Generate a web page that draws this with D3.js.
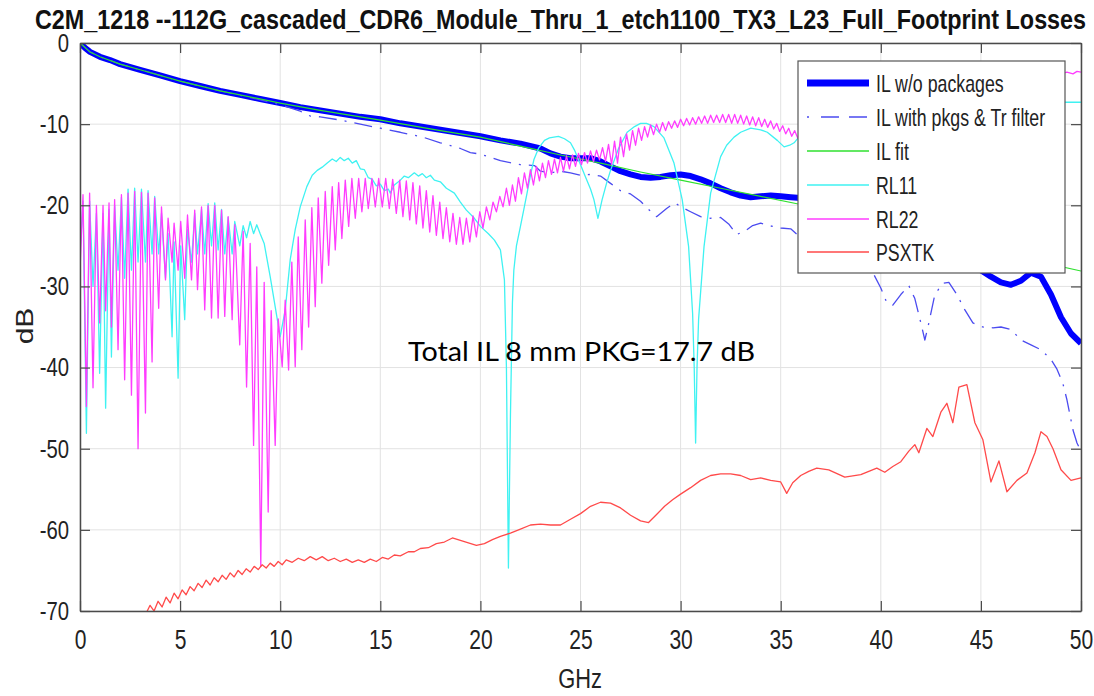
<!DOCTYPE html>
<html><head><meta charset="utf-8">
<script src="https://cdn.jsdelivr.net/npm/d3@7"></script>
<style>body{margin:0;background:#fff}</style>
</head><body>
<svg id="chart" width="1094" height="696"></svg>
<script>
const titleText = "C2M_1218 --112G_cascaded_CDR6_Module_Thru_1_etch1100_TX3_L23_Full_Footprint Losses";
const xLabel = "GHz";
const yLabel = "dB";
const annotation = "Total IL 8 mm PKG=17.7 dB";
const xTicks = [0,5,10,15,20,25,30,35,40,45,50];
const yTicks = [0,-10,-20,-30,-40,-50,-60,-70];
const seriesNames = ["IL w/o packages","IL with pkgs & Tr filter","IL fit","RL11","RL22","PSXTK"];

// [GHz, dB]
const ilNoPkg = [[0,0],[0.25,-0.6],[0.5,-1.1],[1,-1.7],[1.5,-2.1],[2,-2.6],[3,-3.3],[4,-4.0],[5,-4.7],[6,-5.3],[7,-5.9],[8,-6.4],[9,-6.9],[10,-7.4],[11,-7.9],[12,-8.3],[13,-8.7],[14,-9.1],[15,-9.4],[16,-9.9],[17,-10.3],[18,-10.7],[19,-11.1],[20,-11.5],[21,-12.0],[22,-12.4],[23,-13.0],[23.5,-13.6],[24,-14.0],[24.5,-14.2],[25,-14.2],[25.5,-14.2],[26,-14.6],[26.5,-15.2],[27,-15.8],[27.5,-16.2],[28,-16.5],[28.5,-16.6],[29,-16.5],[29.5,-16.3],[30,-16.2],[30.5,-16.4],[31,-16.8],[31.5,-17.3],[32,-17.9],[32.5,-18.4],[33,-18.8],[33.5,-19.0],[34,-18.9],[34.5,-18.8],[35,-18.9],[35.5,-19.0],[36,-19.1],[37,-19.6],[38,-20.2],[39,-21],[40,-22],[41,-23],[42,-24.2],[43,-25.5],[44,-26.8],[45,-28],[45.5,-28.8],[46,-29.5],[46.5,-29.8],[47,-29.3],[47.5,-28.3],[48,-28.8],[48.5,-31],[49,-33.8],[49.5,-35.8],[50,-37]];

const ilPkg = [[0,0],[0.5,-1.1],[1,-1.7],[2,-2.6],[3,-3.3],[5,-4.7],[7,-5.9],[9,-7.0],[10,-7.6],[11,-8.4],[11.5,-9.0],[12,-9.1],[13,-9.5],[14,-10.0],[15,-10.5],[16,-11.0],[16.5,-11.3],[17,-11.5],[18,-12.3],[19,-13.0],[19.5,-13.5],[20,-13.7],[21,-14.5],[22,-15.0],[22.7,-15.1],[23,-15.8],[23.5,-16.0],[24,-15.8],[24.5,-16.0],[25,-16.3],[25.5,-16.2],[26,-16.4],[26.5,-17.3],[27,-18.2],[27.5,-18.6],[28,-19.5],[28.4,-20.5],[28.8,-21.4],[29.3,-20.4],[29.7,-19.7],[30.1,-20.3],[30.5,-20.8],[31,-21.4],[31.5,-21.6],[32,-21.5],[32.4,-22.3],[32.8,-23.6],[33.2,-23.2],[33.6,-22.5],[34,-22.2],[34.4,-22.5],[35,-22.8],[35.5,-22.9],[36,-24],[37,-25],[38,-26],[39,-27],[39.5,-27.8],[40,-30.2],[40.3,-32],[40.6,-32.3],[41,-31],[41.4,-29.9],[41.7,-31.5],[42,-34.5],[42.2,-36.6],[42.4,-34.5],[42.7,-31],[43.1,-29.6],[43.4,-29.5],[43.8,-31],[44.2,-32.9],[44.6,-34.5],[45.1,-35],[45.6,-35.1],[46,-35],[46.5,-35.3],[47,-36.6],[47.5,-37.2],[48,-37.8],[48.5,-39],[48.8,-40.2],[49.1,-42],[49.3,-44],[49.6,-47.7],[49.8,-49.3],[50,-50.3]];

const ilFit = [[0,0],[0.5,-1.1],[1,-1.7],[2,-2.6],[3,-3.3],[5,-4.7],[7,-5.9],[10,-7.4],[12,-8.3],[15,-9.5],[18,-10.8],[20,-11.6],[22,-12.7],[24,-13.8],[26,-14.8],[28,-15.9],[30,-16.9],[32,-17.9],[34,-18.9],[36,-19.9],[38,-21.0],[40,-22.2],[42,-23.4],[44,-24.6],[46,-25.8],[48,-27.0],[50,-28.1]];

const rl11 = [[0,-26],[0.15,-19.5],[0.32,-48.1],[0.48,-19.5],[0.65,-30],[0.82,-21],[0.98,-40.7],[1.15,-21],[1.28,-45],[1.45,-20.5],[1.57,-38.7],[1.73,-20],[1.9,-28],[2.07,-19],[2.23,-29],[2.4,-18],[2.57,-28],[2.73,-17.9],[2.9,-27],[3.07,-18],[3.27,-27],[3.4,-18.2],[3.6,-26],[3.73,-18.9],[3.93,-26],[4.07,-21],[4.27,-29],[4.4,-23.5],[4.6,-36.2],[4.7,-24.5],[4.9,-41.3],[5.03,-25],[5.23,-34.1],[5.37,-23],[5.57,-27],[5.73,-21],[5.87,-26],[6.07,-20.5],[6.23,-26],[6.4,-19.8],[6.57,-25],[6.73,-19.7],[6.9,-25.5],[7.07,-20.5],[7.23,-26],[7.4,-21.5],[7.6,-26],[7.73,-22],[7.98,-25],[8.15,-22.5],[8.32,-24],[8.5,-22],[8.67,-23.5],[8.83,-22.4],[9.0,-23.5],[9.2,-24.7],[9.5,-28.8],[9.83,-33.7],[10,-36.2],[10.25,-32.9],[10.5,-26.7],[10.75,-23],[11,-20.2],[11.33,-17.7],[11.6,-16.3],[11.85,-15.7],[12.1,-15.3],[12.35,-14.8],[12.6,-14.3],[12.8,-14.6],[13,-14.1],[13.2,-14.5],[13.4,-14.2],[13.6,-14.8],[13.8,-14.5],[14.0,-15.5],[14.2,-15.6],[14.4,-16.6],[14.6,-16.8],[14.8,-17.6],[15.0,-17.4],[15.2,-18.2],[15.4,-18],[15.5,-18.5],[15.7,-17.5],[16.0,-16.9],[16.2,-16.4],[16.4,-16.6],[16.7,-16.0],[16.9,-16.4],[17.1,-16.1],[17.3,-16.6],[17.5,-16.3],[17.7,-16.9],[18.0,-17.1],[18.3,-17.9],[18.7,-18.5],[19.0,-19.6],[19.3,-20.6],[19.7,-21.6],[20.0,-22.6],[20.4,-23.5],[20.7,-24.3],[21.0,-25.5],[21.2,-29.2],[21.3,-40],[21.4,-64.7],[21.5,-46],[21.6,-32],[21.67,-28],[21.8,-25],[22.0,-22.6],[22.17,-20.5],[22.33,-18.5],[22.5,-16.3],[22.67,-14.4],[22.9,-13],[23.2,-12],[23.45,-11.7],[23.67,-11.6],[23.9,-11.5],[24.2,-11.8],[24.5,-12.3],[24.7,-13.2],[24.9,-14.4],[25.25,-16.5],[25.5,-18],[25.67,-19.3],[25.87,-21.6],[26.08,-19.3],[26.3,-17.3],[26.5,-15.7],[26.9,-13],[27.33,-11],[27.7,-10.3],[28,-9.9],[28.3,-9.9],[28.67,-10.3],[29.17,-11.7],[29.67,-14.8],[30.08,-19.3],[30.4,-25.1],[30.6,-33.3],[30.68,-40],[30.75,-49.3],[30.82,-40],[30.9,-34],[31.17,-25.1],[31.5,-18.5],[32,-14],[32.3,-12.6],[32.67,-11.6],[33,-11],[33.5,-10.5],[34,-10.7],[34.33,-11],[34.83,-12],[35.17,-12.8],[35.45,-12.6],[35.67,-12.3],[35.9,-11.6],[37,-10.5],[39,-9],[41,-8.5],[43,-8],[45,-7.5],[47,-7.4],[49,-7.3],[50,-7.3]];

const rl22 = [[0,-28],[0.15,-18.7],[0.32,-44.8],[0.48,-18.5],[0.65,-42.5],[0.82,-20],[0.98,-34.5],[1.15,-20],[1.28,-33],[1.45,-19.7],[1.57,-35],[1.73,-19.3],[1.9,-37.8],[2.07,-18.7],[2.23,-41.5],[2.4,-18.5],[2.57,-43.4],[2.73,-18.3],[2.9,-50],[3.07,-18.4],[3.27,-45.6],[3.4,-18.5],[3.6,-39.3],[3.73,-19.1],[3.93,-32.7],[4.07,-20.2],[4.27,-29.2],[4.4,-21.6],[4.6,-27],[4.7,-22.2],[4.9,-28],[5.03,-22],[5.23,-29],[5.37,-21.2],[5.57,-29.2],[5.73,-20.6],[5.87,-30.4],[6.07,-20.2],[6.23,-32.9],[6.4,-20],[6.57,-33.9],[6.73,-20],[6.9,-33.9],[7.07,-20.6],[7.23,-33.7],[7.4,-21.4],[7.6,-34.1],[7.73,-22.4],[7.98,-37.2],[8.15,-23.2],[8.32,-42.4],[8.5,-24.7],[8.67,-49.6],[8.83,-27.6],[9.03,-64.5],[9.2,-29.5],[9.4,-57.8],[9.55,-33],[9.75,-49.6],[9.9,-34],[10.1,-39.9],[10.25,-31.7],[10.42,-40.3],[10.58,-27],[10.75,-39.9],[10.9,-23.9],[11.08,-37.8],[11.25,-21.8],[11.42,-35],[11.58,-20.3],[11.75,-32.5],[11.9,-19.1],[12.08,-29.6],[12.25,-18.3],[12.42,-27.4],[12.6,-17.7],[12.75,-25.5],[12.92,-17.2],[13.08,-24.1],[13.25,-16.9],[13.42,-22.6],[13.58,-16.7],[13.75,-21.6],[13.92,-16.7],[14.08,-20.8],[14.25,-16.7],[14.4,-20.4],[14.58,-16.7],[14.75,-20.2],[14.92,-16.7],[15.1,-20.2],[15.27,-16.7],[15.45,-20.4],[15.62,-16.8],[15.8,-21],[15.97,-16.9],[16.13,-21.4],[16.3,-17],[16.47,-21.8],[16.63,-17.2],[16.8,-22.3],[16.97,-17.6],[17.13,-22.8],[17.3,-18.2],[17.47,-23.3],[17.63,-18.8],[17.8,-23.7],[17.97,-19.6],[18.13,-24.1],[18.3,-20.3],[18.47,-24.5],[18.63,-21],[18.8,-24.8],[18.97,-21.5],[19.13,-24.8],[19.3,-21.6],[19.47,-24.5],[19.63,-21.3],[19.8,-23.9],[19.97,-20.8],[20.13,-22.8],[20.3,-20.2],[20.47,-21.8],[20.63,-19.6],[20.8,-20.8],[20.97,-18.9],[21.13,-20.2],[21.3,-17.9],[21.45,-20.0],[21.6,-17.5],[21.75,-19.5],[21.9,-16.6],[22.05,-18.6],[22.2,-16.0],[22.35,-17.9],[22.5,-15.6],[22.65,-17.5],[22.8,-15.2],[22.95,-17.0],[23.1,-14.8],[23.25,-16.6],[23.4,-14.5],[23.55,-16.2],[23.7,-14.3],[23.85,-16.0],[24.0,-14.1],[24.15,-15.8],[24.3,-13.9],[24.45,-15.5],[24.6,-13.8],[24.75,-15.2],[24.9,-13.6],[25.05,-15.0],[25.2,-13.5],[25.35,-14.8],[25.5,-13.3],[25.65,-14.6],[25.8,-13.2],[25.95,-14.4],[26.1,-12.9],[26.25,-14.6],[26.4,-12.5],[26.55,-15.0],[26.7,-12.1],[26.85,-14.8],[27.0,-11.6],[27.15,-14.0],[27.3,-11.2],[27.45,-13.2],[27.6,-10.8],[27.75,-12.6],[27.9,-10.5],[28.05,-12.0],[28.2,-10.3],[28.35,-11.6],[28.5,-10.1],[28.65,-11.3],[28.8,-10.0],[28.95,-11.0],[29.1,-9.8],[29.25,-10.8],[29.4,-9.7],[29.55,-10.5],[29.7,-9.6],[29.85,-10.4],[30.0,-9.4],[30.15,-10.2],[30.3,-9.3],[30.45,-10.1],[30.6,-9.2],[30.75,-10.0],[30.9,-9.1],[31.05,-9.9],[31.2,-9.0],[31.35,-9.9],[31.5,-8.9],[31.65,-9.8],[31.8,-8.9],[31.95,-9.8],[32.1,-8.8],[32.25,-9.8],[32.4,-8.8],[32.55,-9.9],[32.7,-8.8],[32.85,-9.9],[33.0,-8.9],[33.15,-10.0],[33.3,-9.0],[33.45,-10.1],[33.6,-9.1],[33.75,-10.2],[33.9,-9.2],[34.05,-10.3],[34.2,-9.4],[34.35,-10.4],[34.5,-9.6],[34.65,-10.6],[34.8,-9.9],[34.95,-10.9],[35.1,-10.2],[35.25,-11.2],[35.4,-10.5],[35.55,-11.5],[35.7,-10.8],[35.85,-11.7],[36.0,-11.2],[37,-13],[38,-14],[40,-13],[42,-10],[44,-7],[46,-5],[48,-4.2],[49,-3.8],[49.3,-3.6],[49.6,-3.8],[49.8,-3.5],[50,-3.6]];

const psxtk = [[3.3,-70.3],[3.5,-69.3],[3.7,-70],[3.9,-68.8],[4.1,-69.5],[4.3,-68.3],[4.5,-69],[4.7,-67.8],[4.9,-68.5],[5.1,-67.4],[5.3,-68],[5.5,-67],[5.7,-67.5],[5.9,-66.6],[6.1,-67.1],[6.3,-66.2],[6.5,-66.8],[6.7,-65.9],[6.9,-66.4],[7.1,-65.6],[7.3,-66.1],[7.5,-65.3],[7.7,-65.8],[7.9,-65],[8.1,-65.5],[8.3,-64.8],[8.5,-65.2],[8.7,-64.5],[8.9,-64.9],[9.1,-64.3],[9.3,-64.7],[9.5,-64.1],[9.7,-64.5],[9.9,-63.9],[10.1,-64.3],[10.3,-63.7],[10.6,-64.0],[10.9,-63.5],[11.2,-63.8],[11.5,-63.3],[11.8,-63.7],[12.1,-63.3],[12.4,-63.8],[12.7,-63.5],[13,-63.9],[13.3,-63.6],[13.6,-64],[13.9,-63.7],[14.2,-64],[14.5,-63.6],[14.8,-63.9],[15.1,-63.4],[15.4,-63.6],[15.7,-63.1],[16,-63.2],[16.4,-62.7],[16.7,-62.7],[17,-62.3],[17.4,-62.2],[17.8,-61.7],[18.2,-61.5],[18.6,-61.0],[19,-61.3],[19.4,-61.6],[19.8,-61.9],[20.2,-61.7],[20.6,-61.2],[21,-60.8],[21.5,-60.4],[22,-59.9],[22.5,-59.4],[23,-59.3],[23.5,-59.4],[24,-59.4],[24.5,-58.7],[25,-58],[25.5,-57.1],[26,-56.6],[26.5,-56.7],[27,-57.3],[27.5,-58.2],[28,-58.9],[28.4,-59.1],[28.8,-58.1],[29.2,-57.1],[29.6,-56.3],[30,-55.6],[30.5,-54.8],[31,-53.9],[31.5,-53.3],[32,-53.1],[32.5,-53.1],[33,-53.3],[33.5,-53.8],[34,-53.6],[34.5,-53.9],[35,-54.1],[35.3,-55.5],[35.6,-54.2],[36,-53.3],[36.4,-52.8],[36.8,-52.4],[37.4,-52.6],[38.2,-53.5],[39,-53.2],[39.8,-52.4],[40.2,-52.9],[40.6,-52.2],[41,-51.6],[41.4,-50.3],[41.7,-49.5],[41.9,-50.5],[42.3,-47.5],[42.6,-48.5],[43,-45.5],[43.3,-44.4],[43.6,-46.8],[43.9,-42.4],[44.3,-42.1],[44.7,-46.8],[45.1,-48.9],[45.5,-54.1],[45.9,-51.5],[46.3,-55.3],[46.8,-53.9],[47.3,-53],[47.7,-50.5],[48,-47.9],[48.3,-48.5],[48.6,-50],[49,-52.6],[49.5,-53.9],[50,-53.6]];

const seriesData = [ilNoPkg, ilPkg, ilFit, rl11, rl22, psxtk];
const seriesColors = ["#0000ff","#4b4bf0","#2fe02f","#3ff2f2","#ff3cff","#ff4a4a"];
const seriesWidths = [6, 1.3, 1.2, 1.3, 1.3, 1.3];
const seriesDash = [null, "18,8,2,8", null, null, null, null];

const svg = d3.select("#chart");
const L = 80, R = 1081, T = 43, B = 611;
const x = d3.scaleLinear().domain([0, 50]).range([L, R]);
const y = d3.scaleLinear().domain([-70, 0]).range([B, T]);
const FONT = "'Liberation Sans', Arial, Helvetica, sans-serif";
const SX = 0.78;
const fmt = d => String(d);

svg.append("rect").attr("x",0).attr("y",0).attr("width",1094).attr("height",696).attr("fill","#fff");

// grid
const grid = svg.append("g");
grid.selectAll("line.gx").data(xTicks).join("line")
  .attr("x1", d => x(d)).attr("x2", d => x(d)).attr("y1", T).attr("y2", B)
  .attr("stroke", "#e2e2e2").attr("stroke-width", 1);
grid.selectAll("line.gy").data(yTicks).join("line")
  .attr("x1", L).attr("x2", R).attr("y1", d => y(d)).attr("y2", d => y(d))
  .attr("stroke", "#e2e2e2").attr("stroke-width", 1);

// clip
svg.append("clipPath").attr("id","clip").append("rect")
  .attr("x", L).attr("y", T).attr("width", R - L).attr("height", B - T);

const line = d3.line().x(d => x(d[0])).y(d => y(d[1]));
const plot = svg.append("g").attr("clip-path","url(#clip)");
seriesData.forEach((data, i) => {
  plot.append("path").datum(data)
    .attr("d", line)
    .attr("fill","none")
    .attr("stroke", seriesColors[i])
    .attr("stroke-width", seriesWidths[i])
    .attr("stroke-linejoin","round")
    .attr("stroke-dasharray", seriesDash[i]);
});

// axes
const axisColor = "#4a4a4a";
function styleAxis(g){
  g.select(".domain").attr("stroke", axisColor).attr("stroke-width", 1.5);
  g.selectAll(".tick line").attr("stroke", axisColor).attr("stroke-width", 1.2);
}
const xAxis = svg.append("g").attr("transform",`translate(0,${B})`)
  .call(d3.axisBottom(x).tickValues(xTicks).tickSize(-10).tickSizeOuter(0).tickPadding(19).tickFormat(fmt));
styleAxis(xAxis);
xAxis.selectAll("text").attr("font-family", FONT).attr("font-size", 27).attr("fill","#222")
  .attr("transform", `scale(${SX},1)`);

const yAxis = svg.append("g").attr("transform",`translate(${L},0)`)
  .call(d3.axisLeft(y).tickValues(yTicks).tickSize(-10).tickSizeOuter(0).tickPadding(0).tickFormat(fmt));
styleAxis(yAxis);
yAxis.selectAll("text").attr("font-family", FONT).attr("font-size", 26).attr("fill","#222")
  .attr("x", -11 / SX).attr("transform", `scale(${SX},1)`);

const xTop = svg.append("g").attr("transform",`translate(0,${T})`)
  .call(d3.axisTop(x).tickValues(xTicks).tickSize(-10).tickSizeOuter(0).tickFormat(""));
styleAxis(xTop);
const yRight = svg.append("g").attr("transform",`translate(${R},0)`)
  .call(d3.axisRight(y).tickValues(yTicks).tickSize(-10).tickSizeOuter(0).tickFormat(""));
styleAxis(yRight);

// title (scaled to the reference width)
const title = svg.append("text")
  .attr("font-family", FONT).attr("font-weight","bold").attr("font-size", 28)
  .attr("fill","#111").text(titleText);
const tw = title.node().getComputedTextLength();
title.attr("transform", `translate(35,29) scale(${1052 / tw},1)`);

// axis labels
svg.append("text").attr("transform", `translate(580,688) scale(${SX},1)`)
  .attr("text-anchor","middle").attr("font-family", FONT).attr("font-size", 28).attr("fill","#222")
  .text(xLabel);
svg.append("text").attr("transform", `translate(33,326) rotate(-90) scale(1,${SX})`)
  .attr("text-anchor","middle").attr("font-family", FONT).attr("font-size", 30).attr("fill","#222")
  .text(yLabel);

// annotation
const ann = svg.append("text")
  .attr("font-family","Lato, 'Open Sans', sans-serif").attr("font-size", 27).attr("fill","#000")
  .text(annotation);
const aw = ann.node().getComputedTextLength();
ann.attr("transform", `translate(408,361) scale(${347 / aw},1)`);

// legend
const lg = svg.append("g");
lg.append("rect").attr("x", 798).attr("y", 61).attr("width", 267).attr("height", 212)
  .attr("fill","#fff").attr("stroke","#555").attr("stroke-width", 1.2);
const legY = [83, 117, 151, 185, 219, 252];
seriesNames.forEach((name, i) => {
  const gy = legY[i];
  lg.append("line").attr("x1", 807).attr("x2", 869).attr("y1", gy).attr("y2", gy)
    .attr("stroke", seriesColors[i]).attr("stroke-width", i === 0 ? 7 : 1.4)
    .attr("stroke-dasharray", i === 1 ? "2,12,18,10,18" : seriesDash[i]);
  lg.append("text").attr("transform", `translate(876,${gy}) scale(0.74,1)`)
    .attr("dy","0.36em").attr("font-family", FONT).attr("font-size", 24).attr("fill","#222")
    .text(name);
});
</script>
</body></html>
